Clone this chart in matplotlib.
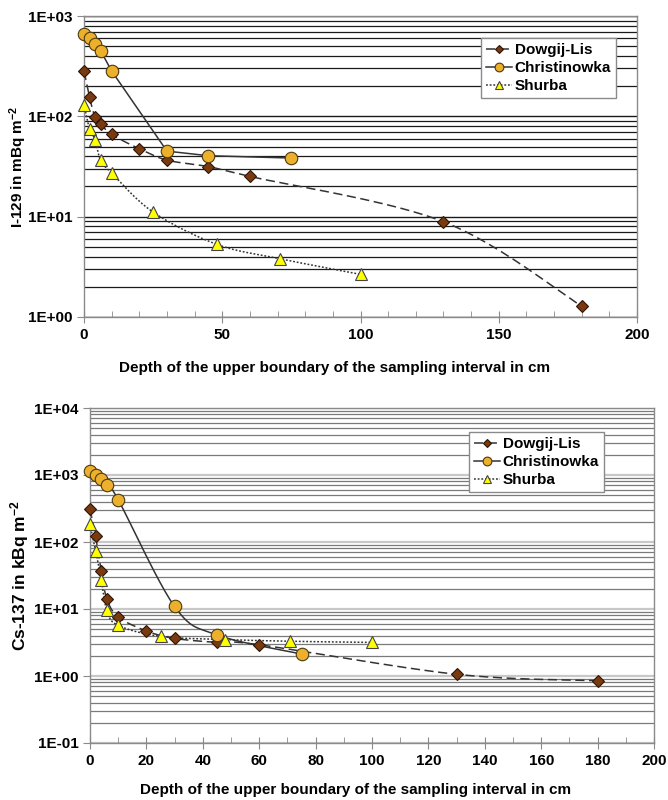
import numpy as np
import matplotlib
matplotlib.use("Agg")
import matplotlib.pyplot as plt
from matplotlib.ticker import FixedLocator, FuncFormatter, MultipleLocator, NullFormatter

plt.rcParams['font.family'] = ['Liberation Sans', 'DejaVu Sans']
plt.rcParams['font.weight'] = 'bold'
plt.rcParams['mathtext.fontset'] = 'custom'
plt.rcParams['mathtext.rm'] = 'Liberation Sans:bold'
plt.rcParams['mathtext.bf'] = 'Liberation Sans:bold'
plt.rcParams['mathtext.default'] = 'bf'

series_names = ["Dowgij-Lis", "Christinowka", "Shurba"]

# ---- I-129 (mBq m^-2) ----
i129_dowgij_x = [0, 2, 4, 6, 10, 20, 30, 45, 60, 130, 180]
i129_dowgij_y = [283, 155, 98, 84, 66, 47.5, 36.6, 31.5, 25.2, 8.9, 1.28]
i129_christ_x = [0, 2, 4, 6, 10, 30, 45, 75]
i129_christ_y = [667, 600, 530, 451, 283, 45, 40.5, 38.4]
i129_shurba_x = [0, 2, 4, 6, 10, 25, 48, 71, 100]
i129_shurba_y = [131, 75, 58, 36.6, 27.2, 11.1, 5.3, 3.8, 2.66]

# ---- Cs-137 (kBq m^-2) ----
cs_dowgij_x = [0, 2, 4, 6, 10, 20, 30, 45, 60, 130, 180]
cs_dowgij_y = [311, 121, 36.4, 14.1, 7.6, 4.7, 3.64, 3.17, 2.93, 1.06, 0.85]
cs_christ_x = [0, 2, 4, 6, 10, 30, 45, 75]
cs_christ_y = [1130, 1010, 871, 716, 428, 10.9, 4.1, 2.13]
cs_shurba_x = [0, 2, 4, 6, 10, 25, 48, 71, 100]
cs_shurba_y = [183, 74, 27.4, 9.5, 5.7, 3.9, 3.5, 3.3, 3.17]

xlabel_text = "Depth of the upper boundary of the sampling interval in cm"

W, H = 668, 800
fig = plt.figure(figsize=(W / 100, H / 100), dpi=100)

def px_axes(l, t, r, b):
    return fig.add_axes([l / W, 1 - b / H, (r - l) / W, (b - t) / H])

ax1 = px_axes(84, 16, 637, 317)
ax2 = px_axes(90, 408, 654, 743)

styles = {
    "Dowgij-Lis": dict(marker='D', ms=6.5, mfc='#7A3A10', mec='#2E1405', mew=0.8,
                       color='#333333', ls=(0, (6, 3)), lw=1.1),
    "Christinowka": dict(marker='o', ms=9, mfc='#EDB02C', mec='#4A3A10', mew=0.8,
                         color='#333333', ls='-', lw=1.1),
    "Shurba": dict(marker='^', ms=9, mfc='#FFFF00', mec='#444444', mew=0.8,
                   color='#333333', ls=(0, (1.2, 1.2)), lw=1.1),
}

def smooth(ax, x, y, n=24):
    pts = ax.transData.transform(np.column_stack([x, y]))
    out = [pts[0]]
    for i in range(len(pts) - 1):
        p0 = pts[i - 1] if i > 0 else pts[i]
        p1 = pts[i]
        p2 = pts[i + 1]
        p3 = pts[i + 2] if i + 2 < len(pts) else pts[i + 1]
        c1 = p1 + (p2 - p0) / 6
        c2 = p2 - (p3 - p1) / 6
        t = np.linspace(0, 1, n)[1:, None]
        seg = (1 - t) ** 3 * p1 + 3 * (1 - t) ** 2 * t * c1 + 3 * (1 - t) * t ** 2 * c2 + t ** 3 * p2
        out.extend(seg)
    out = ax.transData.inverted().transform(np.array(out))
    return out[:, 0], out[:, 1]

def fmt(v, pos):
    e = int(round(np.log10(v)))
    return "1E" + format(e, '+03d')

def setup(ax, ymin_e, ymax_e, major_x, grid_major_color, grid_minor_color, major_lw):
    ax.set_yscale('log')
    ax.set_xlim(0, 200)
    ax.set_ylim(10.0 ** ymin_e, 10.0 ** ymax_e)
    majors = [10.0 ** e for e in range(ymin_e, ymax_e + 1)]
    minors = [m * 10.0 ** e for e in range(ymin_e, ymax_e) for m in range(2, 10)]
    ax.yaxis.set_major_locator(FixedLocator(majors))
    ax.yaxis.set_minor_locator(FixedLocator(minors))
    ax.yaxis.set_major_formatter(FuncFormatter(fmt))
    ax.yaxis.set_minor_formatter(NullFormatter())
    ax.xaxis.set_major_locator(MultipleLocator(major_x))
    ax.xaxis.set_minor_locator(MultipleLocator(10))
    for e in majors:
        ax.axhline(e, color=grid_major_color, lw=major_lw, zorder=0.5)
    for m in minors:
        ax.axhline(m, color=grid_minor_color, lw=0.9, zorder=0.5)
    for s in ax.spines.values():
        s.set_color('#8a8a8a')
        s.set_linewidth(1.0)
    ax.tick_params(axis='y', which='major', direction='out', length=5, color='#8a8a8a',
                   labelsize=11, pad=3)
    ax.tick_params(axis='y', which='minor', length=0)
    ax.tick_params(axis='x', which='major', direction='inout', length=8, color='#8a8a8a',
                   labelsize=11, pad=4)
    ax.tick_params(axis='x', which='minor', direction='in', length=4, color='#8a8a8a')
    for lab in ax.get_xticklabels() + ax.get_yticklabels():
        lab.set_fontweight('bold')

setup(ax1, 0, 3, 50, '#1a1a1a', '#1a1a1a', 1.0)
setup(ax2, -1, 4, 20, '#c8c8c8', '#7a7a7a', 1.6)

def draw(ax, data, smooth_flags):
    handles = []
    for name, (x, y), sm in zip(series_names, data, smooth_flags):
        st = dict(styles[name])
        if sm:
            xs, ys = smooth(ax, x, y)
        else:
            xs, ys = x, y
        ax.plot(xs, ys, color=st['color'], ls=st['ls'], lw=st['lw'], zorder=2)
        ax.plot(x, y, ls='none', marker=st['marker'], ms=st['ms'], mfc=st['mfc'],
                mec=st['mec'], mew=st['mew'], zorder=3, clip_on=False)
        h, = ax.plot([], [], color=st['color'], ls=st['ls'], lw=st['lw'], marker=st['marker'],
                     ms=st['ms'] * 0.7, mfc=st['mfc'], mec=st['mec'], mew=st['mew'])
        handles.append(h)
    return handles

h1 = draw(ax1, [(i129_dowgij_x, i129_dowgij_y), (i129_christ_x, i129_christ_y),
                (i129_shurba_x, i129_shurba_y)], [True, False, True])
h2 = draw(ax2, [(cs_dowgij_x, cs_dowgij_y), (cs_christ_x, cs_christ_y),
                (cs_shurba_x, cs_shurba_y)], [True, True, True])

for ax, h, anchor in [(ax1, h1, ((481 - 84) / 553, (317 - 38) / 301)),
                      (ax2, h2, ((469 - 90) / 564, (743 - 432) / 335))]:
    leg = ax.legend(h, series_names, loc='upper left', bbox_to_anchor=anchor,
                    frameon=True, fancybox=False, framealpha=1, edgecolor='#8a8a8a',
                    prop=dict(family=['Liberation Sans', 'DejaVu Sans'], weight='bold', size=11),
                    handlelength=1.7, handletextpad=0.15, labelspacing=0.25,
                    borderpad=0.35, borderaxespad=0)
    leg.get_frame().set_linewidth(1.0)
    leg.set_zorder(5)

ax1.set_xlabel(xlabel_text, fontsize=11, fontweight='bold',
               family=['Liberation Sans Narrow', 'Liberation Sans', 'DejaVu Sans'])
ax1.xaxis.label.set_va('center')
ax1.xaxis.set_label_coords((335 - 84) / 553, (317 - 368) / 301)
ax2.set_xlabel(xlabel_text, fontsize=11, fontweight='bold')
ax2.xaxis.label.set_va('center')
ax2.xaxis.set_label_coords((356 - 90) / 564, (743 - 790) / 335)

ax1.set_ylabel(r"I-129 in mBq m$^{-2}$", fontsize=11, fontweight='bold')
ax1.yaxis.label.set_va('center')
ax1.yaxis.set_label_coords((18 - 84) / 553, 0.5)
ax2.set_ylabel(r"Cs-137 in kBq m$^{-2}$", fontsize=12.5, fontweight='bold')
ax2.yaxis.label.set_va('center')
ax2.yaxis.set_label_coords((20 - 90) / 564, 0.5)

fig.savefig("out.png", dpi=100)
